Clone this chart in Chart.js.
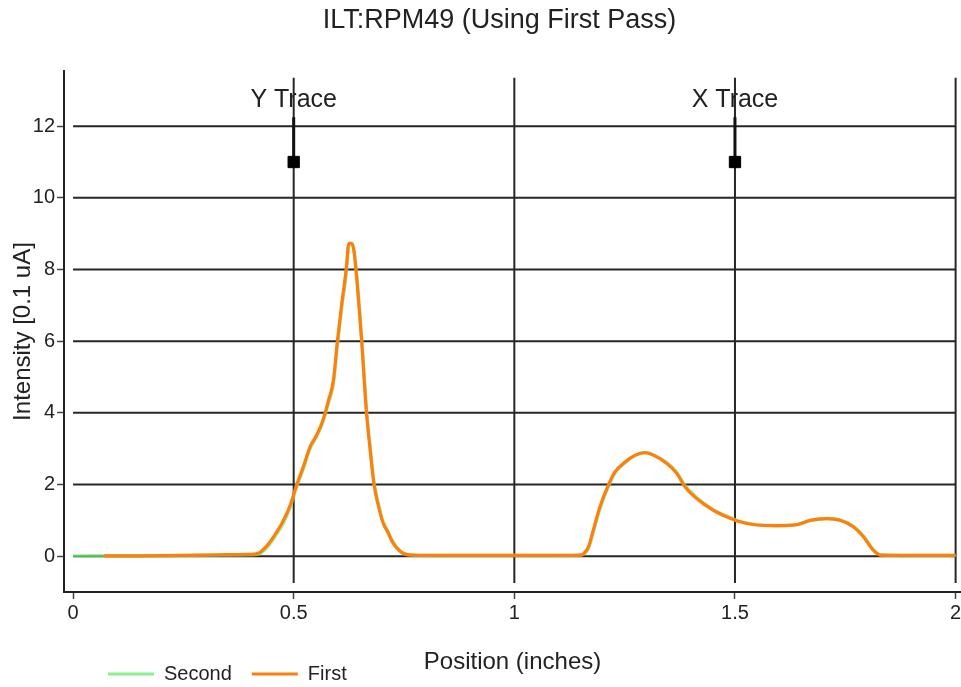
<!DOCTYPE html>
<html>
<head>
<meta charset="utf-8">
<script src="https://cdn.jsdelivr.net/npm/chart.js@4"></script>
<style>
html, body { margin: 0; padding: 0; background: #fff; }
canvas { display: block; }
</style>
</head>
<body>
<canvas id="c" width="961" height="687"></canvas>
<script>
// Beam intensity scan, two passes over the Y and X traces
const chartTitle = 'ILT:RPM49 (Using First Pass)';
const xAxisTitle = 'Position (inches)';
const yAxisTitle = 'Intensity [0.1 uA]';
const seriesNames = ['Second', 'First'];

const positions = [0, 0.07, 0.15, 0.25, 0.33, 0.40, 0.42, 0.44, 0.455, 0.477, 0.492,
  0.507, 0.522, 0.537, 0.552, 0.565, 0.579, 0.59, 0.599, 0.609, 0.619,
  0.625, 0.631, 0.636, 0.641, 0.654, 0.665, 0.673, 0.682, 0.692, 0.703,
  0.712, 0.726, 0.748, 0.77, 0.85, 0.95, 1.05, 1.15, 1.158, 1.168,
  1.179, 1.194, 1.213, 1.228, 1.251, 1.274, 1.296, 1.315, 1.345, 1.368,
  1.387, 1.413, 1.451, 1.481, 1.511, 1.549, 1.595, 1.64, 1.67, 1.708,
  1.738, 1.768, 1.791, 1.813, 1.829, 1.9, 2.0];

const secondValues = [0.00, 0.01, 0.01, 0.02, 0.03, 0.04, 0.06, 0.25, 0.50, 0.94, 1.36,
  1.94, 2.44, 3.00, 3.34, 3.70, 4.28, 4.82, 5.88, 6.95, 7.90,
  8.70, 8.74, 8.60, 8.10, 6.10, 4.08, 3.08, 2.07, 1.46, 0.95,
  0.73, 0.38, 0.09, 0.03, 0.02, 0.02, 0.02, 0.03, 0.06, 0.22,
  0.68, 1.32, 1.94, 2.32, 2.61, 2.81, 2.89, 2.83, 2.61, 2.34,
  1.97, 1.64, 1.30, 1.12, 0.97, 0.88, 0.85, 0.88, 0.99, 1.05,
  1.01, 0.84, 0.56, 0.19, 0.04, 0.02, 0.02];

const firstValues = [null, 0.01, 0.01, 0.02, 0.04, 0.05, 0.08, 0.30, 0.55, 1.00, 1.42,
  2.00, 2.50, 3.05, 3.38, 3.75, 4.35, 4.91, 6.00, 7.05, 8.00,
  8.73, 8.72, 8.55, 8.00, 6.00, 4.00, 3.00, 2.00, 1.40, 0.91,
  0.70, 0.35, 0.08, 0.03, 0.02, 0.02, 0.02, 0.03, 0.08, 0.26,
  0.73, 1.38, 1.98, 2.35, 2.63, 2.82, 2.89, 2.82, 2.59, 2.31,
  1.93, 1.61, 1.28, 1.10, 0.96, 0.87, 0.85, 0.88, 1.00, 1.05,
  1.00, 0.82, 0.54, 0.17, 0.03, 0.02, 0.02];

const xTicks = [0, 0.5, 1, 1.5, 2];
const yTicks = [0, 2, 4, 6, 8, 10, 12];
const xRange = [-0.0204, 2.0122];
const yRange = [-1, 13.54];

// trace markers and section dividers
const traceLabels = ['Y Trace', 'X Trace'];
const tracePositions = [0.5, 1.5];
const markerLevel = 11;
const markerTop = 12.25;
const dividerPositions = [0.5, 1, 1.5, 2];
const dividerSpan = [-0.75, 13.35];
const gridSpan = [0, 2];

const COLORS = { second: 'rgba(115,232,115,0.72)', secondKey: 'rgb(140,240,140)', first: '#ff7f0e', ink: '#222222', rule: '#262626' };
Chart.defaults.font.family = '"Liberation Sans", Arial, sans-serif';
Chart.defaults.color = COLORS.ink;

const datasets = [];
yTicks.forEach(v => datasets.push({
  data: [{ x: gridSpan[0], y: v }, { x: gridSpan[1], y: v }],
  borderColor: COLORS.rule, borderWidth: 2, pointRadius: 0, order: 6
}));
dividerPositions.forEach(p => datasets.push({
  data: [{ x: p, y: dividerSpan[0] }, { x: p, y: dividerSpan[1] }],
  borderColor: COLORS.rule, borderWidth: 2, pointRadius: 0, order: 5
}));
datasets.push({
  label: seriesNames[0],
  data: positions.map((x, i) => ({ x, y: secondValues[i] })),
  borderColor: COLORS.second, borderWidth: 3.4, pointRadius: 0,
  cubicInterpolationMode: 'monotone', order: 2
});
datasets.push({
  label: seriesNames[1],
  data: positions.map((x, i) => ({ x, y: firstValues[i] })),
  borderColor: COLORS.first, borderWidth: 3.2, pointRadius: 0,
  cubicInterpolationMode: 'monotone', order: 1
});
tracePositions.forEach(p => datasets.push({
  data: [{ x: p, y: markerLevel }, { x: p, y: markerTop }],
  borderColor: '#111', borderWidth: 3,
  pointStyle: 'rect', pointRadius: [8, 0], pointHoverRadius: 0,
  pointBackgroundColor: '#000', pointBorderColor: '#000', pointBorderWidth: 1,
  order: 0
}));

// text above each trace marker
const traceLabelPlugin = {
  id: 'traceLabels',
  beforeDatasetsDraw(chart) {
    const { ctx, scales: { x, y } } = chart;
    ctx.save();
    ctx.font = '25px "Liberation Sans", Arial, sans-serif';
    ctx.fillStyle = COLORS.ink;
    ctx.textAlign = 'center';
    ctx.textBaseline = 'alphabetic';
    traceLabels.forEach((t, i) => {
      ctx.fillText(t, x.getPixelForValue(tracePositions[i]), y.getPixelForValue(markerTop) - 10);
    });
    ctx.restore();
  }
};

// legend sits under the left half of the axis title; title slightly right of centre
const placementPlugin = {
  id: 'placement',
  afterLayout(chart) {
    const lg = chart.legend;
    if (lg) {
      const dx = 88 - lg.left, dy = (chart.height - 43) - lg.top;
      lg.left += dx; lg.right += dx; lg.top += dy; lg.bottom += dy;
    }
    const tb = chart.titleBlock;
    if (tb) { tb.left += 19; tb.right += 19; }
  }
};

// let the plot run to the right edge of the canvas
function trimRight(scale) {
  scale.paddingRight = 0;
  scale.paddingLeft = 0;
  if (scale._margins) scale._margins.right = 0;
}

new Chart(document.getElementById('c'), {
  type: 'line',
  data: { datasets },
  plugins: [traceLabelPlugin, placementPlugin],
  options: {
    responsive: false,
    devicePixelRatio: 1,
    animation: false,
    events: [],
    layout: { padding: 0, autoPadding: false },
    plugins: {
      tooltip: { enabled: false },
      title: {
        display: true, text: chartTitle, color: COLORS.ink,
        font: { size: 27, weight: 'normal' },
        padding: { top: 4, bottom: 34.6 }
      },
      legend: {
        display: true, position: 'bottom', align: 'start',
        labels: {
          boxWidth: 46, boxHeight: 3, padding: 20,
          font: { size: 20 }, color: COLORS.ink,
          generateLabels: () => [
            { text: seriesNames[0], fillStyle: COLORS.secondKey, strokeStyle: COLORS.secondKey, lineWidth: 0, fontColor: COLORS.ink, hidden: false },
            { text: seriesNames[1], fillStyle: COLORS.first, strokeStyle: COLORS.first, lineWidth: 0, fontColor: COLORS.ink, hidden: false }
          ]
        }
      }
    },
    scales: {
      x: {
        type: 'linear', min: xRange[0], max: xRange[1],
        afterBuildTicks: s => { s.ticks = xTicks.map(v => ({ value: v })); },
        afterFit: trimRight,
        border: { display: true, color: COLORS.ink, width: 2 },
        grid: { drawOnChartArea: false, drawTicks: true, tickLength: 7, tickColor: '#444', tickWidth: 1.5 },
        ticks: { padding: 2, font: { size: 20 }, color: COLORS.ink, maxRotation: 0, autoSkip: false, callback: v => String(v) },
        title: { display: true, text: xAxisTitle, color: COLORS.ink, font: { size: 24 }, padding: { top: 20.6, bottom: -39.4 } }
      },
      y: {
        type: 'linear', min: yRange[0], max: yRange[1],
        afterBuildTicks: s => { s.ticks = yTicks.map(v => ({ value: v })); },
        border: { display: true, color: COLORS.ink, width: 2 },
        grid: { drawOnChartArea: false, drawTicks: true, tickLength: 7, tickColor: '#444', tickWidth: 1.5 },
        ticks: { padding: 2, font: { size: 20 }, color: COLORS.ink, callback: v => String(v) },
        title: { display: true, text: yAxisTitle, color: COLORS.ink, font: { size: 24 }, padding: { top: 8.6, bottom: -6.6 } }
      }
    }
  }
});
</script>
</body>
</html>
